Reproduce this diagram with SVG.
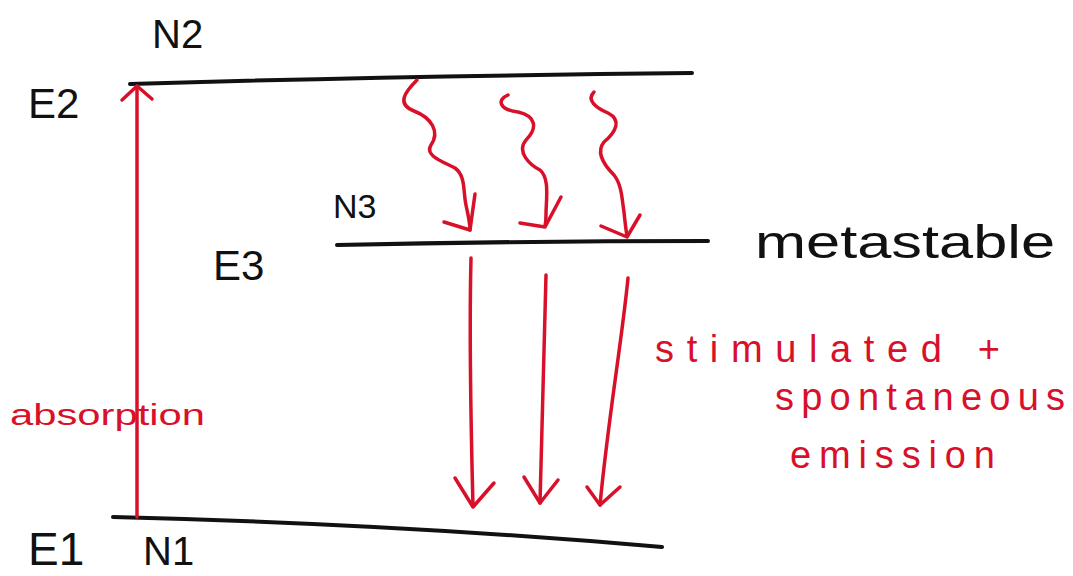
<svg xmlns="http://www.w3.org/2000/svg" width="1073" height="576" viewBox="0 0 1073 576">
<style>
.lvl{fill:none;stroke:#111;stroke-width:4;stroke-linecap:round}
.red{fill:none;stroke:#d8102a;stroke-width:3.5;stroke-linecap:round;stroke-linejoin:round}
.bk{font-family:"Liberation Sans",Arial,sans-serif;fill:#111}
.rt{font-family:"Liberation Sans",Arial,sans-serif;fill:#d8102a}
</style>
<rect width="1073" height="576" fill="#fff"/>
<g id="level-E2">
<path class="lvl" d="M130,84 Q400,76 692,73"/>
<text class="bk" x="28" y="118" font-size="42">E2</text>
<text class="bk" x="152" y="48" font-size="40">N2</text>
</g>
<g id="level-E3">
<path class="lvl" d="M337,245 Q520,241 708,241"/>
<text class="bk" x="213" y="280" font-size="42">E3</text>
<text class="bk" x="333" y="218" font-size="34">N3</text>
<text class="bk" x="755" y="258" font-size="46" textLength="300" lengthAdjust="spacingAndGlyphs">metastable</text>
</g>
<g id="level-E1">
<path class="lvl" d="M113,517 Q400,524 662,547"/>
<text class="bk" x="28" y="565" font-size="46">E1</text>
<text class="bk" x="143" y="565" font-size="40">N1</text>
</g>
<g id="label-absorption">
<text class="rt" x="10" y="425" font-size="30" textLength="195" lengthAdjust="spacingAndGlyphs">absorption</text>
</g>
<g id="label-emission">
<text class="rt" x="655" y="362" font-size="38" textLength="345">stimulated +</text>
<text class="rt" x="775" y="410" font-size="38" textLength="290">spontaneous</text>
<text class="rt" x="790" y="468" font-size="38" textLength="205">emission</text>
</g>
<g id="connectors">
<path class="red" d="M137,517 L137,86"/>
<path class="red" d="M122,100 L137,86 L152,99"/>
<path class="red" d="M417,80 C405,92 396,104 414,111 C432,118 440,132 431,145 C424,156 444,162 455,168 C466,176 463,192 466,205 C468,215 470,222 470,230"/>
<path class="red" d="M444,222 L470,230 L475,194"/>
<path class="red" d="M508,95 C496,100 500,110 518,112 C536,116 538,128 526,140 C516,152 530,165 540,170 C550,178 546,200 546,215 C546,222 545,226 545,226"/>
<path class="red" d="M520,223 L545,227 L561,197"/>
<path class="red" d="M594,92 C586,100 596,108 608,113 C622,120 616,132 604,142 C596,152 604,165 614,175 C622,185 622,200 624,212 C625,222 626,230 627,236"/>
<path class="red" d="M601,226 L627,237 L640,215"/>
<path class="red" d="M471,258 C469,340 471,430 473,506"/>
<path class="red" d="M455,478 L473,507 L494,483"/>
<path class="red" d="M546,275 C544,360 541,440 540,503"/>
<path class="red" d="M524,477 L540,503 L558,480"/>
<path class="red" d="M628,278 C622,340 608,420 600,505"/>
<path class="red" d="M587,487 L600,505 L620,487"/>
</g>
</svg>
